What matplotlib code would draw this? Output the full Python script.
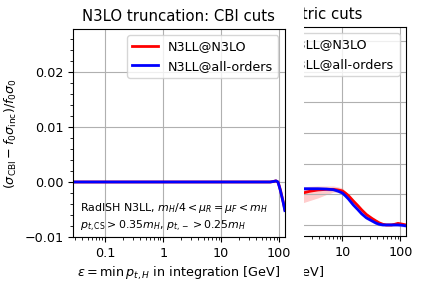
import numpy as np
import matplotlib
matplotlib.use("Agg")
import matplotlib.pyplot as plt
from matplotlib.patches import Rectangle

# left panel: CBI cuts
x_cbi = [0.028, 0.1, 1, 10, 50, 70, 80, 88, 95, 100, 105, 110, 117, 125]
y_cbi_n3lo = [0, 0, 0, 0, 0, 0, 0.0001, 0.0002, 0.0, -0.0007, -0.0015, -0.0024, -0.0036, -0.005]
y_cbi_all = [0, 0, 0, 0, 0, 0, 0.0001, 0.0002, 0.0, -0.0008, -0.0016, -0.0025, -0.0037, -0.0052]

# right panel: asymmetric cuts (only partly visible)
x_asym = [1.0, 2.07, 2.8, 3.8, 5.3, 7.0, 8.5, 10.0, 11.3, 12.7, 15.5, 18.5, 21.6, 26.0,
          32.5, 38.0, 43.0, 50.0, 57.0, 70.0, 80.0, 91.0, 105.0, 125.0]
y_asym_n3lo = [-0.0008, 0.0004, 0.0010, 0.0014, 0.0016, 0.0016, 0.0014, 0.0011, 0.0004, -0.0004,
               -0.0022, -0.0037, -0.0051, -0.0066, -0.0079, -0.0087, -0.0093, -0.0098, -0.0100,
               -0.0100, -0.0098, -0.0095, -0.0097, -0.0100]
lo_asym_n3lo = [-0.0045, -0.0028, -0.0020, -0.0012, -0.0001, 0.0007, 0.0007, 0.0004, 0.0000,
                -0.0008, -0.0026, -0.0041, -0.0055, -0.0070, -0.0083, -0.0091, -0.0097,
                -0.0102, -0.0104, -0.0104, -0.0102, -0.0099, -0.0101, -0.0104]
hi_asym_n3lo = [0.0022, 0.0024, 0.0026, 0.0027, 0.0027, 0.0027, 0.0024, 0.0021, 0.0010, 0.0001,
                -0.0018, -0.0033, -0.0047, -0.0062, -0.0075, -0.0083, -0.0089, -0.0094,
                -0.0096, -0.0096, -0.0094, -0.0091, -0.0093, -0.0096]
y_asym_all = [0.0018, 0.0018, 0.0018, 0.0018, 0.0017, 0.0015, 0.0010, 0.0004, -0.0005, -0.0015,
              -0.0035, -0.0050, -0.0064, -0.0077, -0.0087, -0.0094, -0.0098, -0.0100, -0.0100,
              -0.0100, -0.0100, -0.0100, -0.0101, -0.0103]

labels = ["N3LL@N3LO", "N3LL@all-orders"]
fs = 9.2

fig = plt.figure(figsize=(4.22, 2.86), dpi=100)

# second axes sits partly behind the first one
ax2 = fig.add_axes([0.46, 0.175, 0.502, 0.731])
ax2.set_zorder(0)
ax2.fill_between(x_asym, lo_asym_n3lo, hi_asym_n3lo, color="red", alpha=0.2, lw=0)
ax2.fill_between(x_asym, np.array(y_asym_all) - 0.0005, np.array(y_asym_all) + 0.0005,
                 color="blue", alpha=0.15, lw=0)
ax2.plot(x_asym, y_asym_n3lo, color="red", lw=2, label=labels[0])
ax2.plot(x_asym, y_asym_all, color="blue", lw=2, label=labels[1])
ax2.set_xscale("log")
ax2.set_xlim(0.028, 125)
ax2.set_ylim(-0.0136, 0.0546)
ax2.set_yticks([-0.01, 0.0, 0.01, 0.02, 0.03, 0.04, 0.05])
ax2.set_xticks([0.1, 1, 10, 100])
ax2.set_xticklabels(["0.1", "1", "10", "100"])
ax2.tick_params(labelsize=fs)
ax2.grid(True)
ax2.set_title("Asymmetric cuts", fontsize=10.7)
ax2.set_xlabel(r"$\varepsilon$ [GeV]", fontsize=fs)
ax2.legend(loc="upper right", fontsize=fs)

# white cover hiding the left part of the second panel
cover = Rectangle((0.0, 0.0), 304 / 422, 1.0, transform=fig.transFigure,
                  facecolor="white", edgecolor="none", zorder=1)
fig.add_artist(cover)

ax = fig.add_axes([0.173, 0.1713, 0.502, 0.7273])
ax.set_zorder(2)
ax.plot(x_cbi, y_cbi_n3lo, color="red", lw=2, label=labels[0])
ax.plot(x_cbi, y_cbi_all, color="blue", lw=2, label=labels[1])
ax.set_xscale("log")
ax.set_xlim(0.028, 125)
ax.set_ylim(-0.01, 0.0278)
ax.set_yticks([-0.01, 0.0, 0.01, 0.02])
ax.set_yticks(np.arange(-0.01, 0.028, 0.002), minor=True)
ax.set_xticks([0.1, 1, 10, 100])
ax.set_xticklabels(["0.1", "1", "10", "100"])
ax.tick_params(labelsize=fs)
ax.grid(True)
ax.set_title("N3LO truncation: CBI cuts", fontsize=10.7)
ax.set_xlabel(r"$\varepsilon = \min\, p_{t,H}$ in integration [GeV]", fontsize=fs)
ax.set_ylabel(r"$(\sigma_{\rm CBI} - f_0 \sigma_{\rm inc})/f_0\sigma_0$", fontsize=fs)
ax.legend(loc="upper right", fontsize=fs)
ax.text(0.033, 0.139, r"RadISH N3LL, $m_H/4 < \mu_R = \mu_F < m_H$", transform=ax.transAxes,
        fontsize=7.9, va="center")
ax.text(0.033, 0.053, r"$p_{t,\rm CS} > 0.35 m_H$, $p_{t,-} > 0.25 m_H$", transform=ax.transAxes,
        fontsize=7.9, va="center")

fig.savefig("out.png", dpi=100)
